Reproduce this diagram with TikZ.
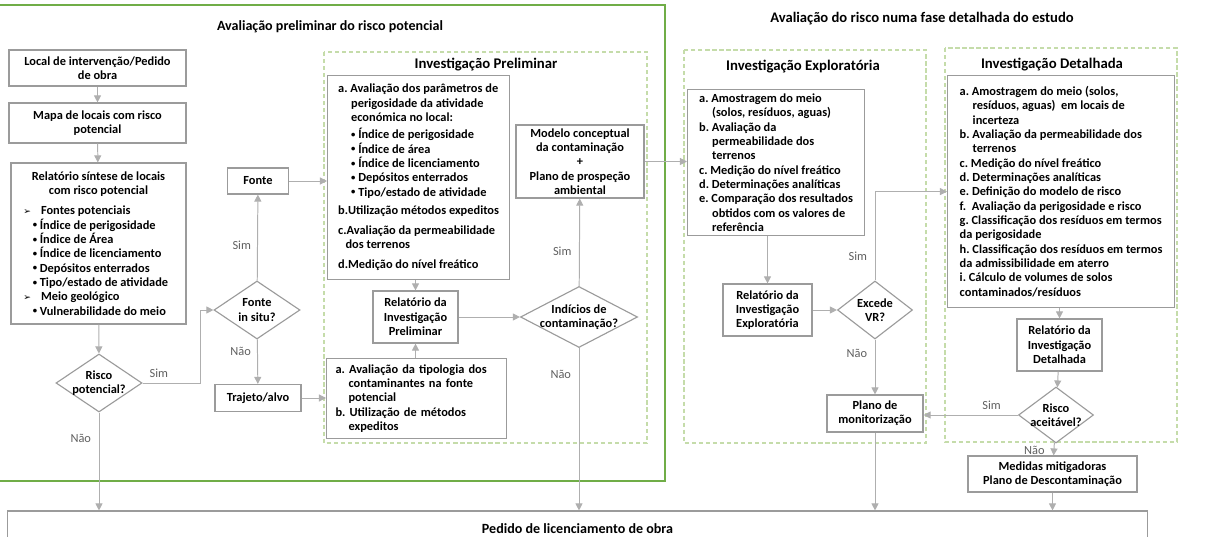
\documentclass[tikz,border=0pt]{standalone}
\usepackage{fontspec}
\usepackage{graphicx}
\setmainfont{Carlito}
\newfontfamily\symfont{DejaVu Sans}
\usetikzlibrary{shapes.geometric,arrows.meta,positioning}
\definecolor{boxgray}{RGB}{155,155,155}
\definecolor{linegray}{RGB}{175,175,175}
\definecolor{labgray}{RGB}{95,95,95}
\definecolor{outergreen}{RGB}{112,173,71}
\definecolor{dashgreen}{RGB}{197,220,170}
\frenchspacing
\newcommand\sitem[1]{\makebox[3.75cm][l]{#1}}
\newcommand\ind{\hspace*{1.05em}}
\newcommand\arw{{\symfont\fontsize{6.5}{6}\selectfont ➢}}
\newcommand\bul{\raisebox{0.2ex}{\scalebox{0.7}{\textbullet}}\ }
\newcommand\dl[1]{\makebox[0pt]{#1}}
\begin{document}
\begin{tikzpicture}[x=0.025cm,y=-0.025cm,
  >={Triangle[length=5pt,width=5pt]},
  txt/.style={font=\bfseries\fontsize{8.8}{10.2}\selectfont},
  box/.style={txt,draw=boxgray,line width=0.8pt,fill=white,align=center,inner sep=2pt},
  lst/.style={box,align=left,anchor=north west,inner ysep=3pt},
  dec/.style={txt,diamond,draw=boxgray,line width=0.8pt,fill=white,align=center,inner sep=0pt},
  lbl/.style={font=\fontsize{8.8}{10}\selectfont,text=labgray},
  flow/.style={draw=linegray,line width=0.7pt,->},
  phase/.style={draw=dashgreen,line width=0.8pt,dash pattern=on 3pt off 2pt},
  ttl/.style={font=\bfseries\fontsize{10.5}{12}\selectfont}]
\useasboundingbox (0,0) rectangle (1214,537);

% phases
\draw[outergreen,line width=1.4pt] (-3,5) rectangle (665,481);
\draw[phase] (324,52) rectangle (647,443);
\draw[phase] (684,50) rectangle (926,443);
\draw[phase] (945,48) rectangle (1177,442);
\node[ttl,font=\bfseries\fontsize{10}{12}\selectfont] (tprelim) at (330,27) {Avaliação preliminar do risco potencial};
\node[ttl,font=\bfseries\fontsize{10.4}{12}\selectfont] (tdetal) at (922,19) {Avaliação do risco numa fase detalhada do estudo};
\node[ttl] (tip) at (486,65) {Investigação Preliminar};
\node[ttl] (tie) at (803,67) {Investigação Exploratória};
\node[ttl] (tid) at (1052,65) {Investigação Detalhada};

% left column
\node[box,minimum width=4.425cm,minimum height=0.9cm] (local) at (97.5,68) {Local de intervenção/Pedido\\de obra};
\node[box,minimum width=4.425cm,minimum height=1cm] (mapa) at (97.5,123) {Mapa de locais com risco\\potencial};
\node[box,minimum width=4.375cm,minimum height=4.025cm] (sintese) at (98.5,243.5) {Relatório síntese de locais\\com risco potencial\\[4pt]
  \sitem{\arw\hspace{0.8em}Fontes potenciais}\\
  \sitem{\hspace*{0.75em}\bul Índice de perigosidade}\\
  \sitem{\hspace*{0.75em}\bul Índice de Área}\\
  \sitem{\hspace*{0.75em}\bul Índice de licenciamento}\\
  \sitem{\hspace*{0.75em}\bul Depósitos enterrados}\\
  \sitem{\hspace*{0.75em}\bul Tipo/estado de atividade}\\
  \sitem{\arw\hspace{0.8em}Meio geológico}\\
  \sitem{\hspace*{0.75em}\bul Vulnerabilidade do meio}};
\node[dec,minimum width=2.15cm,minimum height=1.45cm] (risco) at (99,383) {\dl{Risco}\\\dl{potencial?}};

% fonte / trajeto
\node[dec,minimum width=2.15cm,minimum height=1.45cm] (fontein) at (257,310) {\dl{Fonte}\\\dl{in situ?}};
\node[box,minimum width=1.525cm,minimum height=0.65cm] (fonte) at (258,181) {Fonte};
\node[box,minimum width=2.15cm,minimum height=0.675cm] (trajeto) at (258,398) {Trajeto/alvo};

% investigacao preliminar
\node[lst,minimum width=4.55cm,minimum height=5.1cm] (prelA) at (327,75) {a. Avaliação dos parâmetros de\\
  \ind perigosidade da atividade\\
  \ind económica no local:\\[2pt]
  \ind\bul Índice de perigosidade\\
  \ind\bul Índice de área\\
  \ind\bul Índice de licenciamento\\
  \ind\bul Depósitos enterrados\\
  \ind\bul Tipo/estado de atividade\\[3pt]
  b.Utilização métodos expeditos\\[4pt]
  c.Avaliação da permeabilidade\\
  \hspace*{0.6em}dos terrenos\\[4pt]
  d.Medição do nível freático};
\node[box,minimum width=2.125cm,minimum height=1.3cm] (relPrel) at (415.5,317) {Relatório da\\Investigação\\Preliminar};
\node[lst,text width=4.05cm,inner xsep=0.225cm,minimum height=2cm] (prelB) at (326,358) {a. Avaliação da tipologia dos\\
  \ind contaminantes na fonte\\
  \ind potencial\\
  b. Utilização de métodos\\
  \ind expeditos};
\node[dec,minimum width=2.925cm,minimum height=1.525cm] (indicios) at (579,317) {\dl{Indícios de}\\\dl{contaminação?}};
\node[box,minimum width=3.2cm,minimum height=1.825cm] (modelo) at (580,161.5) {Modelo conceptual\\da contaminação\\+\\Plano de prospeção\\ambiental};

% investigacao exploratoria
\node[lst,minimum width=4.425cm,minimum height=3.65cm] (explA) at (687,89) {a. Amostragem do meio\\
  \ind(solos, resíduos, aguas)\\
  b. Avaliação da\\
  \ind permeabilidade dos\\
  \ind terrenos\\
  c. Medição do nível freático\\
  d. Determinações analíticas\\
  e. Comparação dos resultados\\
  \ind obtidos com os valores de\\
  \ind referência};
\node[box,minimum width=2.225cm,minimum height=1.3cm] (relExpl) at (767.5,310) {Relatório da\\Investigação\\Exploratória};
\node[dec,minimum width=1.875cm,minimum height=1.45cm] (excede) at (875,310) {\dl{Excede}\\\dl{VR?}};
\node[box,minimum width=2.4cm,minimum height=0.925cm] (plano) at (875,413.5) {Plano de\\monitorização};

% investigacao detalhada
\node[lst,minimum width=5.675cm,minimum height=5.8cm] (detA) at (947,75) {a. Amostragem do meio (solos,\\
  \ind resíduos, aguas)\ \ em locais de\\
  \ind incerteza\\
  b. Avaliação da permeabilidade dos\\
  \ind terrenos\\
  c. Medição do nível freático\\
  d. Determinações analíticas\\
  e. Definição do modelo de risco\\
  f.\ \ Avaliação da perigosidade e risco\\
  g. Classificação dos resíduos em termos\\
  da perigosidade\\
  h. Classificação dos resíduos em termos\\
  da admissibilidade em aterro\\
  i. Cálculo de volumes de solos\\
  contaminados/resíduos};
\node[box,minimum width=2.125cm,minimum height=1.3cm] (relDet) at (1059.5,345) {Relatório da\\Investigação\\Detalhada};
\node[dec,minimum width=1.875cm,minimum height=1.4cm] (aceit) at (1056,415) {\dl{Risco}\\\dl{aceitável?}};
\node[box,minimum width=4.225cm,minimum height=0.9cm] (medidas) at (1052.5,474) {Medidas mitigadoras\\Plano de Descontaminação};

\node[box,minimum width=28.475cm,minimum height=0.9cm,font=\bfseries\fontsize{10}{12}\selectfont] (pedido) at (577.5,529) {Pedido de licenciamento de obra};

% connectors
\draw[flow] (local) -- (mapa);
\draw[flow] (mapa) -- (sintese);
\draw[flow] (sintese) -- (risco);
\draw[flow] (risco.east) -- node[lbl,above,pos=0.28]{Sim} ++(58,0) |- (fontein.west);
\draw[flow] (risco.south) -- node[lbl,left=2pt,pos=0.26]{Não} (risco.south |- pedido.north);
\draw[flow] (fontein) -- node[lbl,left=1pt,pos=0.41]{Sim} (fonte);
\draw[flow] (fontein) -- node[lbl,left=1pt,pos=0.26]{Não} (trajeto);
\draw[flow] (fonte.east) -- (fonte.east -| prelA.west);
\draw[flow] (trajeto.east) -- (trajeto.east -| prelB.west);
\draw[flow] (relPrel.north |- prelA.south) -- (relPrel.north);
\draw[flow] (relPrel.south |- prelB.north) -- (relPrel.south);
\draw[flow] (relPrel) -- (indicios);
\draw[flow] (indicios) -- node[lbl,left=2pt,pos=0.4]{Sim} (modelo);
\draw[flow] (indicios.south) -- node[lbl,left=2pt,pos=0.16]{Não} (indicios.south |- pedido.north);
\draw[flow] (modelo.east) -- (modelo.east -| explA.west);
\draw[flow] (relExpl.north |- explA.south) -- (relExpl.north);
\draw[flow] (relExpl) -- (excede);
\draw[flow] (excede.north) |- node[lbl,left=2pt,pos=0.135]{Sim} (detA.west);
\draw[flow] (excede) -- node[lbl,left=2pt,pos=0.25]{Não} (plano);
\draw[flow] (plano.south) -- (plano.south |- pedido.north);
\draw[flow] (relDet.north |- detA.south) -- (relDet.north);
\draw[flow] (relDet) -- (aceit);
\draw[flow] (aceit.west) -- node[lbl,above,pos=0.28]{Sim} (aceit.west -| plano.east);
\draw[flow] (aceit) -- node[lbl,left=3pt,pos=0.6]{Não} (medidas);
\draw[flow] (medidas.south) -- (medidas.south |- pedido.north);
\end{tikzpicture}
\end{document}
